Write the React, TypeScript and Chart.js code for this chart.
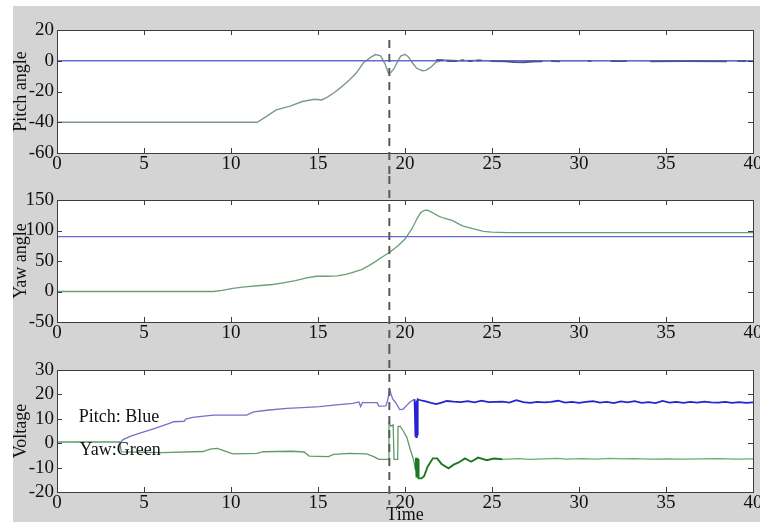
import React, { useEffect, useRef } from 'react';
import { Chart, registerables } from 'chart.js';

Chart.register(...registerables);

type Pt = [number, number | null];

// ---------- axis ticks ----------
const timeTicks = [0, 5, 10, 15, 20, 25, 30, 35, 40];
const pitchTicks = [-60, -40, -20, 0, 20];
const yawTicks = [-50, 0, 50, 100, 150];
const voltageTicks = [-20, -10, 0, 10, 20, 30];
const markerTime = 19.1;

// ---------- Pitch angle ----------
const pitchReference: Pt[] = [[0, 0], [40, 0]];
const pitchAngle: Pt[] = [
  [0, -40], [11.5, -40], [12.0, -36.5], [12.6, -32], [13.4, -29.5], [14.1, -26.5], [14.8, -25],
  [15.2, -25.5], [15.5, -24], [15.9, -21], [16.3, -17.5], [16.8, -12.5], [17.2, -8], [17.6, -1.5],
  [18.0, 2], [18.3, 4], [18.6, 3.2], [18.85, -2], [19.05, -8.2], [19.2, -7.5], [19.35, -5.5],
  [19.55, -1], [19.75, 3], [20.0, 4.2], [20.2, 2.5], [20.4, -1], [20.67, -4.9], [21.0, -6.5],
  [21.2, -6.3], [21.45, -4.5], [21.8, -0.8], [22.2, 0.5], [22.6, 0.3], [23, 0], [24, 0.2], [25, 0],
  [26, -0.5], [26.6, -0.9], [27.2, -0.5], [28, 0], [30, 0], [32, 0.1], [34, 0], [36, 0], [38, 0], [40, 0],
];
const pitchAngleNoise: Pt[] = [
  [21.8, 0.6], [22.2, 0.4], [22.3, null], [22.4, -0.3], [23.0, -0.2], [23.1, null], [23.2, 0.4], [23.4, 0.3],
  [23.5, null], [23.6, -0.2], [23.9, -0.3], [24.0, null], [24.1, 0.3], [24.4, 0.2], [24.6, null],
  [24.9, -0.3], [25.8, -0.4], [26.3, -0.9], [26.8, -1.0], [27.3, -0.5], [27.9, -0.4], [28.1, null],
  [28.4, -0.3], [28.9, -0.4], [29.5, null], [30.5, -0.3], [30.7, -0.3], [31.0, null], [31.8, -0.3],
  [32.75, -0.3], [33.5, null], [34.1, -0.4], [36, -0.3], [38.5, -0.4], [38.8, null], [39.1, -0.3], [39.6, -0.3],
];

// ---------- Yaw angle ----------
const yawReference: Pt[] = [[0, 90], [40, 90]];
const yawAngle: Pt[] = [
  [0, 0], [9.0, 0], [9.5, 2], [10.1, 5], [10.8, 7.5], [11.7, 9.8], [12.4, 11.5], [13.0, 14], [13.7, 18],
  [14.35, 22.5], [14.9, 25], [15.5, 25], [16.1, 25.5], [16.6, 28], [17.0, 31.5], [17.5, 36], [17.9, 42],
  [18.3, 49], [18.6, 55], [19.1, 64], [19.6, 75], [20.0, 86], [20.4, 103], [20.7, 120], [20.9, 129],
  [21.1, 133], [21.3, 133.5], [21.6, 129], [21.9, 124], [22.2, 120.5], [22.7, 116.5], [23.0, 112],
  [23.3, 107.5], [23.9, 103], [24.5, 98.5], [25.0, 97.5], [25.9, 96.4], [30, 96.4], [40, 96.4],
];

// ---------- Voltage ----------
const pitchVoltage: Pt[] = [
  [3.6, 0], [3.8, 1.5], [4.2, 2.8], [4.8, 4.2], [5.5, 5.8], [6.0, 7], [6.5, 8.2], [6.7, 8.8], [7.3, 9],
  [7.4, 9.9], [7.8, 10.6], [8.3, 11], [9.0, 11.5], [10.9, 11.5], [11.3, 12.8], [12.2, 13.6], [13.2, 14.3],
  [14.1, 14.6], [15.1, 15], [15.9, 15.6], [17.0, 16.3], [17.35, 16.9], [17.45, 15], [17.55, 16.6],
  [18.4, 16.6], [18.5, 15.2], [18.9, 15.3], [19.0, 17.5], [19.12, 22], [19.2, 20], [19.3, 18],
  [19.45, 16.8], [19.7, 13.8], [19.9, 14], [20.1, 15.5], [20.3, 17], [20.55, 18],
];
const pitchVoltageNoisy: Pt[] = [
  [20.55, 18], [20.6, 3], [20.62, 17], [20.65, 2.5], [20.68, 17.5], [20.7, 3.5], [20.73, 18], [20.8, 17.8],
  [21.0, 17.4], [21.25, 17], [21.5, 16.5], [21.8, 16], [22.1, 16.6], [22.4, 17.3], [22.8, 17], [23.2, 16.8],
  [23.6, 17.2], [24.0, 16.7], [24.4, 17.4], [24.8, 16.8], [25.2, 16.9], [25.6, 17], [26.0, 16.6], [26.4, 17.6],
  [26.8, 16.8], [27.2, 16.5], [27.6, 16.9], [28.0, 16.7], [28.4, 16.9], [28.8, 17.4], [29.2, 16.6],
  [29.6, 16.9], [30.0, 16.5], [30.4, 16.9], [30.8, 17.2], [31.2, 16.6], [31.6, 16.9], [32.0, 16.4],
  [32.4, 17.1], [32.8, 16.7], [33.2, 17.2], [33.6, 16.5], [34.0, 16.8], [34.4, 16.4], [34.8, 17.3],
  [35.2, 16.6], [35.6, 16.9], [36.0, 16.5], [36.4, 16.9], [36.8, 16.6], [37.2, 17], [37.6, 16.7],
  [38.0, 16.6], [38.4, 16.9], [38.8, 16.5], [39.2, 16.8], [39.6, 16.5], [40, 16.7],
];
const yawVoltage: Pt[] = [
  [0, 0.5], [3.6, 0.5], [3.7, -3.6], [6.0, -3.9], [8.4, -3.4], [8.8, -2.4], [9.2, -2.1], [9.5, -2.8],
  [10.1, -4.4], [11.5, -4.2], [11.85, -3.5], [13.5, -3.3], [14.2, -3.6], [14.5, -5.3], [15.6, -5.5],
  [15.9, -4.6], [16.8, -4.2], [17.8, -4.4], [18.2, -5.5], [18.5, -6.6], [19.05, -6.6], [19.08, 8.2],
  [19.2, 7], [19.32, 7.5], [19.37, -6.6], [19.58, -6.6], [19.6, 6.8], [19.72, 7], [19.9, 5],
  [20.1, 2.5], [20.3, -2.5], [20.5, -7], [20.6, -11],
];
const yawVoltageNoisy: Pt[] = [
  [20.6, -11], [20.63, -6], [20.66, -14], [20.69, -6], [20.72, -14.2], [20.75, -6.5], [20.78, -14.4],
  [20.95, -14.4], [21.1, -13.5], [21.3, -9.6], [21.6, -6.2], [21.85, -6.2], [22.1, -8.5], [22.5, -10.3],
  [22.8, -8.8], [23.06, -8], [23.45, -6.2], [23.8, -7.6], [24.2, -5.9], [24.7, -7], [25.1, -6.3], [25.6, -6.6],
];
const yawVoltageTail: Pt[] = [
  [25.6, -6.6], [26.5, -6.3], [27.2, -6.6], [28, -6.4], [28.7, -6.2], [29.3, -6.5], [30.2, -6.3], [31, -6.5],
  [31.8, -6.2], [32.5, -6.4], [33.2, -6.3], [34, -6.5], [35, -6.4], [36, -6.5], [37, -6.4], [38, -6.3],
  [39, -6.5], [40, -6.4],
];
const voltageNotes = ['Pitch: Blue', 'Yaw:Green'];
const voltageNotePos: [number, number][] = [[1.25, 8.7], [1.3, -4.8]];

// ---------- drawing ----------
const FONT = "'Liberation Serif', 'Times New Roman', serif";
const TEXT = '#111';

const line = (data: Pt[], color: string, width: number) => ({
  data: data.map(([x, y]) => ({ x, y })),
  borderColor: color,
  borderWidth: width,
  pointRadius: 0,
  fill: false,
  spanGaps: false,
  tension: 0,
});

type Spec = {
  padTop: number;
  axisH: number;
  yMin: number;
  yMax: number;
  yTicks: number[];
  yTitle: string;
  xTitle?: string;
  datasets: any[];
  dashTop: (a: any, h: number) => number;
  dashBottom: (a: any, h: number) => number;
  notes?: { text: string; x: number; y: number }[];
};

function makePlugin(spec: Spec) {
  return {
    id: 'matlabPanel',
    beforeDatasetsDraw(chart: any) {
      const { ctx, chartArea: a } = chart;
      ctx.save();
      ctx.fillStyle = '#ffffff';
      ctx.fillRect(a.left, a.top, a.right - a.left, a.bottom - a.top);
      ctx.restore();
    },
    afterDatasetsDraw(chart: any) {
      const { ctx, chartArea: a, scales } = chart;
      ctx.save();
      if (spec.notes) {
        ctx.fillStyle = TEXT;
        ctx.font = `18px ${FONT}`;
        ctx.textAlign = 'left';
        ctx.textBaseline = 'alphabetic';
        for (const n of spec.notes) {
          ctx.fillText(n.text, scales.x.getPixelForValue(n.x), scales.y.getPixelForValue(n.y));
        }
      }
      ctx.strokeStyle = '#3c3c3c';
      ctx.lineWidth = 1;
      ctx.strokeRect(Math.round(a.left) + 0.5, Math.round(a.top) + 0.5, Math.round(a.right - a.left), Math.round(a.bottom - a.top));
      const tl = 5;
      ctx.beginPath();
      for (const t of scales.x.ticks) {
        const px = Math.round(scales.x.getPixelForValue(t.value)) + 0.5;
        ctx.moveTo(px, a.top); ctx.lineTo(px, a.top + tl);
        ctx.moveTo(px, a.bottom); ctx.lineTo(px, a.bottom - tl);
      }
      for (const t of scales.y.ticks) {
        const py = Math.round(scales.y.getPixelForValue(t.value)) + 0.5;
        ctx.moveTo(a.left, py); ctx.lineTo(a.left + tl, py);
        ctx.moveTo(a.right, py); ctx.lineTo(a.right - tl, py);
      }
      ctx.stroke();
      const mx = scales.x.getPixelForValue(markerTime);
      ctx.strokeStyle = '#5a5a5a';
      ctx.lineWidth = 2;
      ctx.setLineDash([8, 6]);
      ctx.beginPath();
      ctx.moveTo(mx, spec.dashTop(a, chart.height));
      ctx.lineTo(mx, spec.dashBottom(a, chart.height));
      ctx.stroke();
      ctx.restore();
    },
  };
}

function buildChart(canvas: HTMLCanvasElement, spec: Spec) {
  return new Chart(canvas, {
    type: 'line',
    data: { datasets: spec.datasets },
    plugins: [makePlugin(spec)],
    options: {
      responsive: false,
      animation: false,
      devicePixelRatio: 1,
      layout: { padding: { top: spec.padTop, right: 7, left: 0, bottom: 0 } },
      plugins: { legend: { display: false }, tooltip: { enabled: false } },
      elements: { point: { radius: 0 } },
      scales: {
        x: {
          type: 'linear',
          min: timeTicks[0],
          max: timeTicks[timeTicks.length - 1],
          afterBuildTicks: (s: any) => { s.ticks = timeTicks.map((v) => ({ value: v })); },
          afterFit: (s: any) => { s.height = spec.axisH; s.paddingLeft = 0; s.paddingRight = 0; },
          grid: { display: false, drawTicks: false },
          border: { display: false },
          ticks: { font: { family: FONT, size: 19, lineHeight: 1 }, color: TEXT, padding: 2, maxRotation: 0, autoSkip: false },
          title: spec.xTitle
            ? { display: true, text: spec.xTitle, color: TEXT, font: { family: FONT, size: 18, lineHeight: 1.2 }, padding: { top: 0, bottom: -4 } }
            : { display: false },
        },
        y: {
          type: 'linear',
          min: spec.yMin,
          max: spec.yMax,
          afterBuildTicks: (s: any) => { s.ticks = spec.yTicks.map((v) => ({ value: v })); },
          afterFit: (s: any) => { s.width = 57; s.paddingTop = 0; s.paddingBottom = 0; },
          grid: { display: false, drawTicks: false },
          border: { display: false },
          ticks: { font: { family: FONT, size: 19, lineHeight: 1 }, color: TEXT, padding: 3, autoSkip: false },
          title: { display: true, text: spec.yTitle, color: TEXT, font: { family: FONT, size: 18, lineHeight: 1.2 }, padding: { top: 10, bottom: 0 } },
        },
      },
    } as any,
  });
}

const BLUE_REF = '#6a6ad6';
const GREEN = '#67a078';
const GRAY_GREEN = '#7b9a88';

export default function App() {
  const r1 = useRef<HTMLCanvasElement>(null);
  const r2 = useRef<HTMLCanvasElement>(null);
  const r3 = useRef<HTMLCanvasElement>(null);

  useEffect(() => {
    const c1 = buildChart(r1.current!, {
      padTop: 30, axisH: 23, yMin: pitchTicks[0], yMax: pitchTicks[pitchTicks.length - 1],
      yTicks: pitchTicks, yTitle: 'Pitch angle',
      datasets: [
        line(pitchAngleNoise, '#4a5590', 1.8),
        line(pitchReference, BLUE_REF, 1.3),
        line(pitchAngle, GRAY_GREEN, 1.4),
      ],
      dashTop: (a) => a.top + 10,
      dashBottom: (_a, h) => h,
    });
    const c2 = buildChart(r2.current!, {
      padTop: 24, axisH: 24, yMin: yawTicks[0], yMax: yawTicks[yawTicks.length - 1],
      yTicks: yawTicks, yTitle: 'Yaw angle',
      datasets: [
        line(yawReference, BLUE_REF, 1.3),
        line(yawAngle, GREEN, 1.3),
      ],
      dashTop: () => 0,
      dashBottom: (_a, h) => h,
    });
    const c3 = buildChart(r3.current!, {
      padTop: 24, axisH: 30, yMin: voltageTicks[0], yMax: voltageTicks[voltageTicks.length - 1],
      yTicks: voltageTicks, yTitle: 'Voltage', xTitle: 'Time',
      datasets: [
        line(pitchVoltageNoisy, '#2424d2', 1.8),
        line(pitchVoltage, '#7272c6', 1.3),
        line(yawVoltageNoisy, '#1c7a22', 1.9),
        line(yawVoltage, '#5f9a6c', 1.3),
        line(yawVoltageTail, '#62b06e', 1.2),
      ],
      dashTop: () => 0,
      dashBottom: (a) => a.bottom + 13,
      notes: voltageNotes.map((text, i) => ({ text, x: voltageNotePos[i][0], y: voltageNotePos[i][1] })),
    });
    return () => { c1.destroy(); c2.destroy(); c3.destroy(); };
  }, []);

  const cv = (top: number, h: number): React.CSSProperties => ({ position: 'absolute', left: 0, top, width: 760, height: h, display: 'block' });

  return (
    <div style={{ position: 'absolute', left: 0, top: 0, width: 760, height: 522, background: '#ffffff', overflow: 'hidden' }}>
      <div style={{ position: 'absolute', left: 13, top: 6, right: 0, bottom: 0, background: '#d4d4d4' }} />
      <canvas ref={r1} width={760} height={176} style={cv(0, 176)} />
      <canvas ref={r2} width={760} height={170} style={cv(176, 170)} />
      <canvas ref={r3} width={760} height={176} style={cv(346, 176)} />
    </div>
  );
}
